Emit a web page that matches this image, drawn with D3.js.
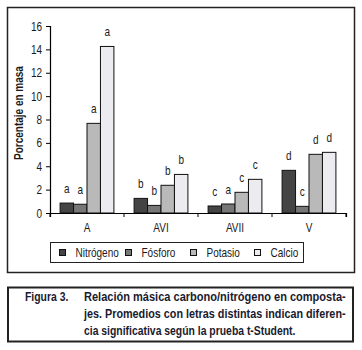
<!DOCTYPE html>
<html>
<head>
<meta charset="utf-8">
<script src="https://cdn.jsdelivr.net/npm/d3@7"></script>
<style>
  body { margin: 0; background: #fff; }
  svg text { font-family: "Liberation Sans", Arial, sans-serif; fill: #1a1a1a; }
</style>
</head>
<body>
<div id="chart"></div>
<script>
const categories = ["A", "AVI", "AVII", "V"];
const seriesNames = ["Nitrógeno", "Fósforo", "Potasio", "Calcio"];
const nitrogeno = [0.85, 1.25, 0.6, 3.65];
const fosforo = [0.75, 0.65, 0.77, 0.57];
const potasio = [7.67, 2.37, 1.77, 5.02];
const calcio = [14.25, 3.3, 2.88, 5.19];
const letrasN = ["a", "b", "c", "d"];
const letrasP = ["a", "b", "a", "c"];
const letrasK = ["a", "b", "c", "d"];
const letrasCa = ["a", "b", "c", "d"];
const yTicks = [0, 2, 4, 6, 8, 10, 12, 14, 16];
const colors = ["#444444", "#777777", "#b9b9b9", "#ececf0"];
const figLabel = "Figura 3.";
const caption = [
  "Relación másica carbono/nitrógeno en composta-",
  "jes. Promedios con letras distintas indican diferen-",
  "cia significativa según la prueba t-Student."
];

const series = [nitrogeno, fosforo, potasio, calcio];
const letters = [letrasN, letrasP, letrasK, letrasCa];
const SX = 0.8; // narrow font look

const svg = d3.select("#chart").append("svg")
  .attr("width", 362).attr("height", 350);

// put a narrow text at x,y
function ntext(parent, px, py, str, size, bold, sx) {
  return parent.append("text")
    .attr("transform", `translate(${px},${py}) scale(${sx || SX},1)`)
    .style("font-size", size + "px")
    .style("font-weight", bold ? "bold" : "normal")
    .text(str);
}

// outer frame of chart
svg.append("rect")
  .attr("x", 7.5).attr("y", 7.5).attr("width", 347).attr("height", 265)
  .attr("fill", "none").attr("stroke", "#222").attr("stroke-width", 1.5);

const margin = { left: 50, top: 26, right: 346, bottom: 213 };

const x = d3.scaleBand().domain(categories).range([margin.left, margin.right]);
const xs = d3.scaleBand().domain(d3.range(4)).range([0, x.bandwidth()])
  .paddingOuter(0.75).paddingInner(0);
const y = d3.scaleLinear().domain([0, 16]).range([margin.bottom, margin.top]);

const groups = svg.selectAll("g.grp").data(categories).enter().append("g")
  .attr("class", "grp")
  .attr("transform", d => `translate(${x(d)},0)`);

groups.each(function (c, ci) {
  const g = d3.select(this);
  series.forEach((s, si) => {
    g.append("rect")
      .attr("x", xs(si))
      .attr("y", y(s[ci]))
      .attr("width", xs.bandwidth())
      .attr("height", y(0) - y(s[ci]))
      .attr("fill", colors[si])
      .attr("stroke", "#111").attr("stroke-width", 1);
    ntext(g, xs(si) + xs.bandwidth() / 2, y(s[ci]) - 10, letters[si][ci], 12.5)
      .attr("text-anchor", "middle");
  });
});

// axes
const yAxis = svg.append("g")
  .attr("transform", `translate(${margin.left},0)`)
  .call(d3.axisLeft(y).tickValues(yTicks).tickSize(4).tickPadding(6));
yAxis.selectAll("text").style("font-size", "12.5px")
  .attr("transform", `scale(${SX},1)`);

const xAxis = svg.append("g")
  .attr("transform", `translate(0,${margin.bottom})`)
  .call(d3.axisBottom(x).tickSize(4).tickPadding(6));
xAxis.selectAll(".tick line").remove();
xAxis.selectAll("text").style("font-size", "12.5px")
  .attr("transform", `scale(${SX},1)`);
// tick marks between categories
xAxis.selectAll("line.sep")
  .data(categories.concat(["end"]))
  .enter().append("line")
  .attr("class", "sep")
  .attr("x1", (d, i) => margin.left + i * x.step())
  .attr("x2", (d, i) => margin.left + i * x.step())
  .attr("y1", 0).attr("y2", 4)
  .attr("stroke", "#000");
svg.selectAll(".domain").attr("stroke", "#000").attr("stroke-width", 1.2);

svg.append("text")
  .attr("transform", `translate(23,113) rotate(-90) scale(${SX},1)`)
  .attr("text-anchor", "middle")
  .style("font-size", "12.5px").style("font-weight", "bold")
  .text("Porcentaje en masa");

// legend
const legend = svg.append("g");
legend.append("rect")
  .attr("x", 50.5).attr("y", 242.5).attr("width", 253).attr("height", 20)
  .attr("fill", "#fff").attr("stroke", "#222").attr("stroke-width", 1);
const legX = [59.5, 125.5, 190.5, 254.5];
seriesNames.forEach((n, i) => {
  legend.append("rect")
    .attr("x", legX[i]).attr("y", 249.5).attr("width", 6).attr("height", 6)
    .attr("fill", colors[i]).attr("stroke", "#111").attr("stroke-width", 1);
  ntext(legend, legX[i] + 16, 257, n, 12.5);
});

// caption box
svg.append("rect")
  .attr("x", 8).attr("y", 287.5).attr("width", 345).attr("height", 54)
  .attr("fill", "none").attr("stroke", "#222").attr("stroke-width", 2);
ntext(svg, 25, 301, figLabel, 13, true).style("fill", "#1a1a2e");
caption.forEach((line, i) => {
  const t = ntext(svg, 84, 301 + i * 17, line, 13, true, 1).style("fill", "#1a1a2e");
  if (i < 2) {
    // justified lines: squeeze to the box width
    const w = t.node().getComputedTextLength();
    t.attr("transform", `translate(84,${301 + i * 17}) scale(${262 / w},1)`);
  } else {
    t.attr("transform", `translate(84,${301 + i * 17}) scale(${SX},1)`);
  }
});
</script>
</body>
</html>
